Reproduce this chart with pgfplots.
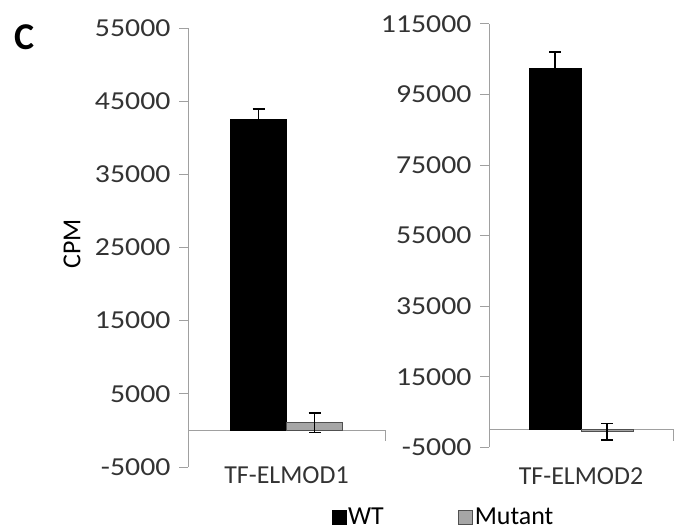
\documentclass[border=0pt]{standalone}
\usepackage{fontspec}
\setmainfont{Carlito}
\newfontfamily\tickfont[FakeStretch=1.15]{Carlito}
\usepackage{pgfplots}
\pgfplotsset{compat=1.18}
\definecolor{axgray}{HTML}{A0A0A0}
\definecolor{txt}{HTML}{333333}
\definecolor{mutfill}{HTML}{A6A6A6}
\definecolor{mutedge}{HTML}{505050}

\pgfplotsset{
  cpmaxis/.style={
    scale only axis,
    axis lines*=left,
    x axis line style={draw=none},
    y axis line style={axgray, line width=1bp},
    xmin=-0.5, xmax=0.5,
    xtick={0},
    x tick style={draw=none},
    ytick style={axgray, line width=1bp},
    tick align=outside,
    major tick length=9bp,
    scaled y ticks=false,
    ybar=0pt,
    font=\fontsize{26}{30}\selectfont,
    tick label style={text=txt},
    yticklabel style={anchor=east, xshift=-5bp, font=\tickfont\fontsize{26}{30}\selectfont},
    clip=false,
    error bars/error bar style={line width=1.6bp, black},
    error bars/error mark options={rotate=90, mark size=6bp, line width=1.6bp, black},
    legend image code/.code={\draw[#1] (0bp,-7bp) rectangle (14bp,7bp);},
  },
  wtbar/.style={fill=black, draw=black},
  mutbar/.style={fill=mutfill, draw=mutedge, line width=1bp},
}

\begin{document}
\begin{tikzpicture}[x=1bp,y=1bp]
\useasboundingbox (0,0) rectangle (674,-531);
\node[font=\fontsize{38}{40}\selectfont\bfseries, text=black] at (25,-37.5) {C};

\begin{axis}[cpmaxis,
  at={(188bp,-467bp)}, anchor=south west,
  width=197bp, height=439bp,
  ymin=-5000, ymax=55000,
  ytick={-5000,5000,15000,25000,35000,45000,55000},
  yticklabels={-5000,5000,15000,25000,35000,45000,55000},
  bar width=56bp,
  xticklabels={TF-ELMOD1},
  xticklabel style={anchor=center, yshift=1bp},
  ylabel={CPM},
  ylabel style={at={(axis description cs:-0.589,0.508)}, anchor=center, text=black},
  legend columns=2,
  legend style={draw=none, fill=none, at={(axis description cs:0.731,-0.114)}, anchor=west,
    font=\fontsize{26}{28}\selectfont, inner sep=0pt,
    nodes={inner sep=1.5bp},
    /tikz/every even column/.append style={column sep=73bp}},
]
\draw[axgray, line width=1bp] (axis cs:-0.5,0) -- (axis cs:0.5,0) -- ++(0bp,-11bp);
\addplot[wtbar, error bars/.cd, y dir=both, y explicit] coordinates {(0,42500) +- (0,1450)};
\addlegendentry{WT}
\addplot[mutbar, error bars/.cd, y dir=both, y explicit] coordinates {(0,1050) +- (0,1350)};
\addlegendentry{Mutant}
\end{axis}

\begin{axis}[cpmaxis,
  at={(489bp,-447.3bp)}, anchor=south west,
  width=184bp, height=423.3bp,
  ymin=-5000, ymax=115000,
  ytick={-5000,15000,35000,55000,75000,95000,115000},
  yticklabels={-5000,15000,35000,55000,75000,95000,115000},
  bar width=52bp,
  xticklabels={TF-ELMOD2},
  xticklabel style={anchor=center, yshift=-20bp},
]
\draw[axgray, line width=1bp] (axis cs:-0.5,0) -- (axis cs:0.5,0) -- ++(0bp,-11bp);
\addplot[wtbar, error bars/.cd, y dir=both, y explicit] coordinates {(0,102400) +- (0,4650)};
\addplot[mutbar, error bars/.cd, y dir=both, y explicit] coordinates {(0,-550) +- (0,2350)};
\end{axis}
\end{tikzpicture}
\end{document}
